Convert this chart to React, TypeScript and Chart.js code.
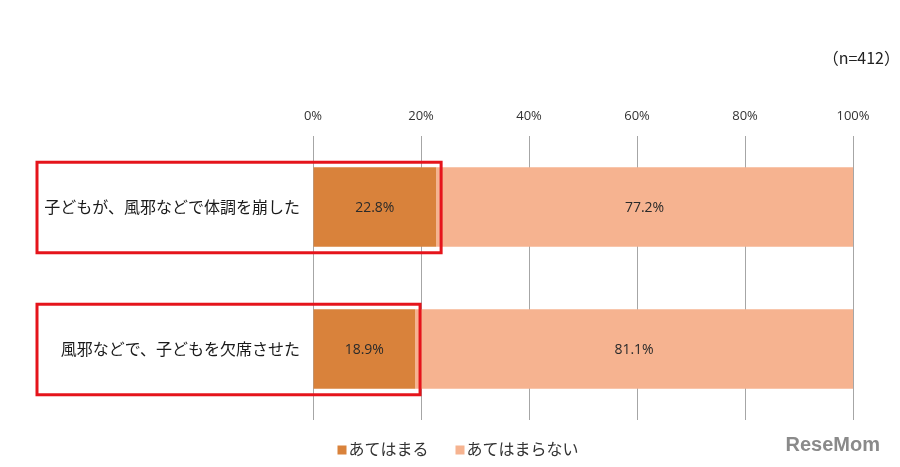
import React, { useEffect, useRef } from "react";
import { Chart, registerables } from "chart.js";
Chart.register(...registerables);

const categories = ["子どもが、風邪などで体調を崩した", "風邪などで、子どもを欠席させた"];
const seriesNames = ["あてはまる", "あてはまらない"];
const applies = [22.8, 18.9];
const notApplies = [77.2, 81.1];
const seriesColors = ["#D9823B", "#F6B390"];
const sampleNote = "（n=412）";
const brand = "ReseMom";

const CJK = "'Noto Sans CJK JP', sans-serif";

export default function App() {
  const ref = useRef<HTMLCanvasElement>(null);
  useEffect(() => {
    if (!ref.current) return;
    const extras = {
      id: "extras",
      afterDatasetsDraw(chart: any) {
        const ctx = chart.ctx;
        ctx.save();
        ctx.font = "14px 'Open Sans', sans-serif";
        ctx.fillStyle = "#2a2a2a";
        ctx.textAlign = "center";
        ctx.textBaseline = "middle";
        chart.data.datasets.forEach((ds: any, di: number) => {
          chart.getDatasetMeta(di).data.forEach((el: any, i: number) => {
            const p = el.getProps(["x", "base", "y"], true);
            ctx.fillText(Number(ds.data[i]).toFixed(1) + "%", (p.x + p.base) / 2, p.y + 1);
          });
        });
        ctx.strokeStyle = "#E5141B";
        ctx.lineWidth = 3;
        chart.getDatasetMeta(0).data.forEach((el: any) => {
          const p = el.getProps(["x", "y", "height"], true);
          const left = chart.chartArea.left - 276;
          ctx.strokeRect(left, p.y - p.height / 2 - 5, p.x + 5 - left, p.height + 11);
        });
        ctx.restore();
      },
      afterDraw(chart: any) {
        const ctx = chart.ctx;
        ctx.save();
        // custom legend
        ctx.font = "16px " + CJK;
        ctx.textBaseline = "middle";
        ctx.textAlign = "left";
        const box = 9, gapText = 2, gapItem = 27;
        const items = chart.data.datasets.map((ds: any) => ({
          text: ds.label,
          color: ds.backgroundColor,
          w: box + gapText + ctx.measureText(ds.label).width,
        }));
        const total = items.reduce((a: number, it: any) => a + it.w, 0) + gapItem * (items.length - 1);
        let lx = chart.width / 2 + 8 - total / 2;
        const ly = 449;
        items.forEach((it: any) => {
          ctx.fillStyle = it.color;
          ctx.fillRect(lx, ly - box / 2 + 1, box, box);
          ctx.fillStyle = "#333";
          ctx.fillText(it.text, lx + box + gapText, ly);
          lx += it.w + gapItem;
        });
        // note
        ctx.font = "16px " + CJK;
        ctx.fillStyle = "#222";
        ctx.textAlign = "right";
        ctx.fillText(sampleNote, chart.width, 58);
        // brand
        ctx.font = "bold 20px 'Liberation Sans', sans-serif";
        ctx.fillStyle = "#8a8a8a";
        ctx.fillText(brand, chart.width - 20, 445);
        ctx.restore();
      },
    };
    const chart = new Chart(ref.current, {
      type: "bar",
      data: {
        labels: categories,
        datasets: [
          { label: seriesNames[0], data: applies, backgroundColor: seriesColors[0], barPercentage: 0.56, categoryPercentage: 1 },
          { label: seriesNames[1], data: notApplies, backgroundColor: seriesColors[1], barPercentage: 0.56, categoryPercentage: 1 },
        ],
      },
      options: {
        indexAxis: "y",
        responsive: false,
        animation: false,
        layout: { padding: { top: 103, right: 47, left: 0, bottom: 0 } },
        scales: {
          x: {
            position: "top",
            stacked: true,
            min: 0,
            max: 100,
            ticks: {
              stepSize: 20,
              padding: 12,
              color: "#333",
              font: { size: 13, family: "'Open Sans', sans-serif" },
              callback: (v: any) => v + "%",
            },
            grid: { color: "#A6A6A6", drawTicks: false },
            border: { display: false },
            afterFit: (s: any) => { s.height = 33; },
          },
          x2: {
            type: "linear",
            position: "bottom",
            display: true,
            grid: { display: false },
            border: { display: false },
            ticks: { display: false },
            afterFit: (s: any) => { s.height = 47; },
          },
          y: {
            stacked: true,
            grid: { display: false, drawTicks: false },
            border: { display: false },
            ticks: { padding: 13, color: "#1a1a1a", font: { size: 16, family: CJK } },
            afterFit: (s: any) => { s.width = 313; },
          },
        },
        plugins: {
          legend: { display: false },
          tooltip: { enabled: false },
        },
      },
      plugins: [extras],
    } as any);
    return () => chart.destroy();
  }, []);
  return (
    <div style={{ position: "absolute", left: 0, top: 0, width: 900, height: 467, background: "#fff" }}>
      <canvas ref={ref} width={900} height={467} />
    </div>
  );
}
